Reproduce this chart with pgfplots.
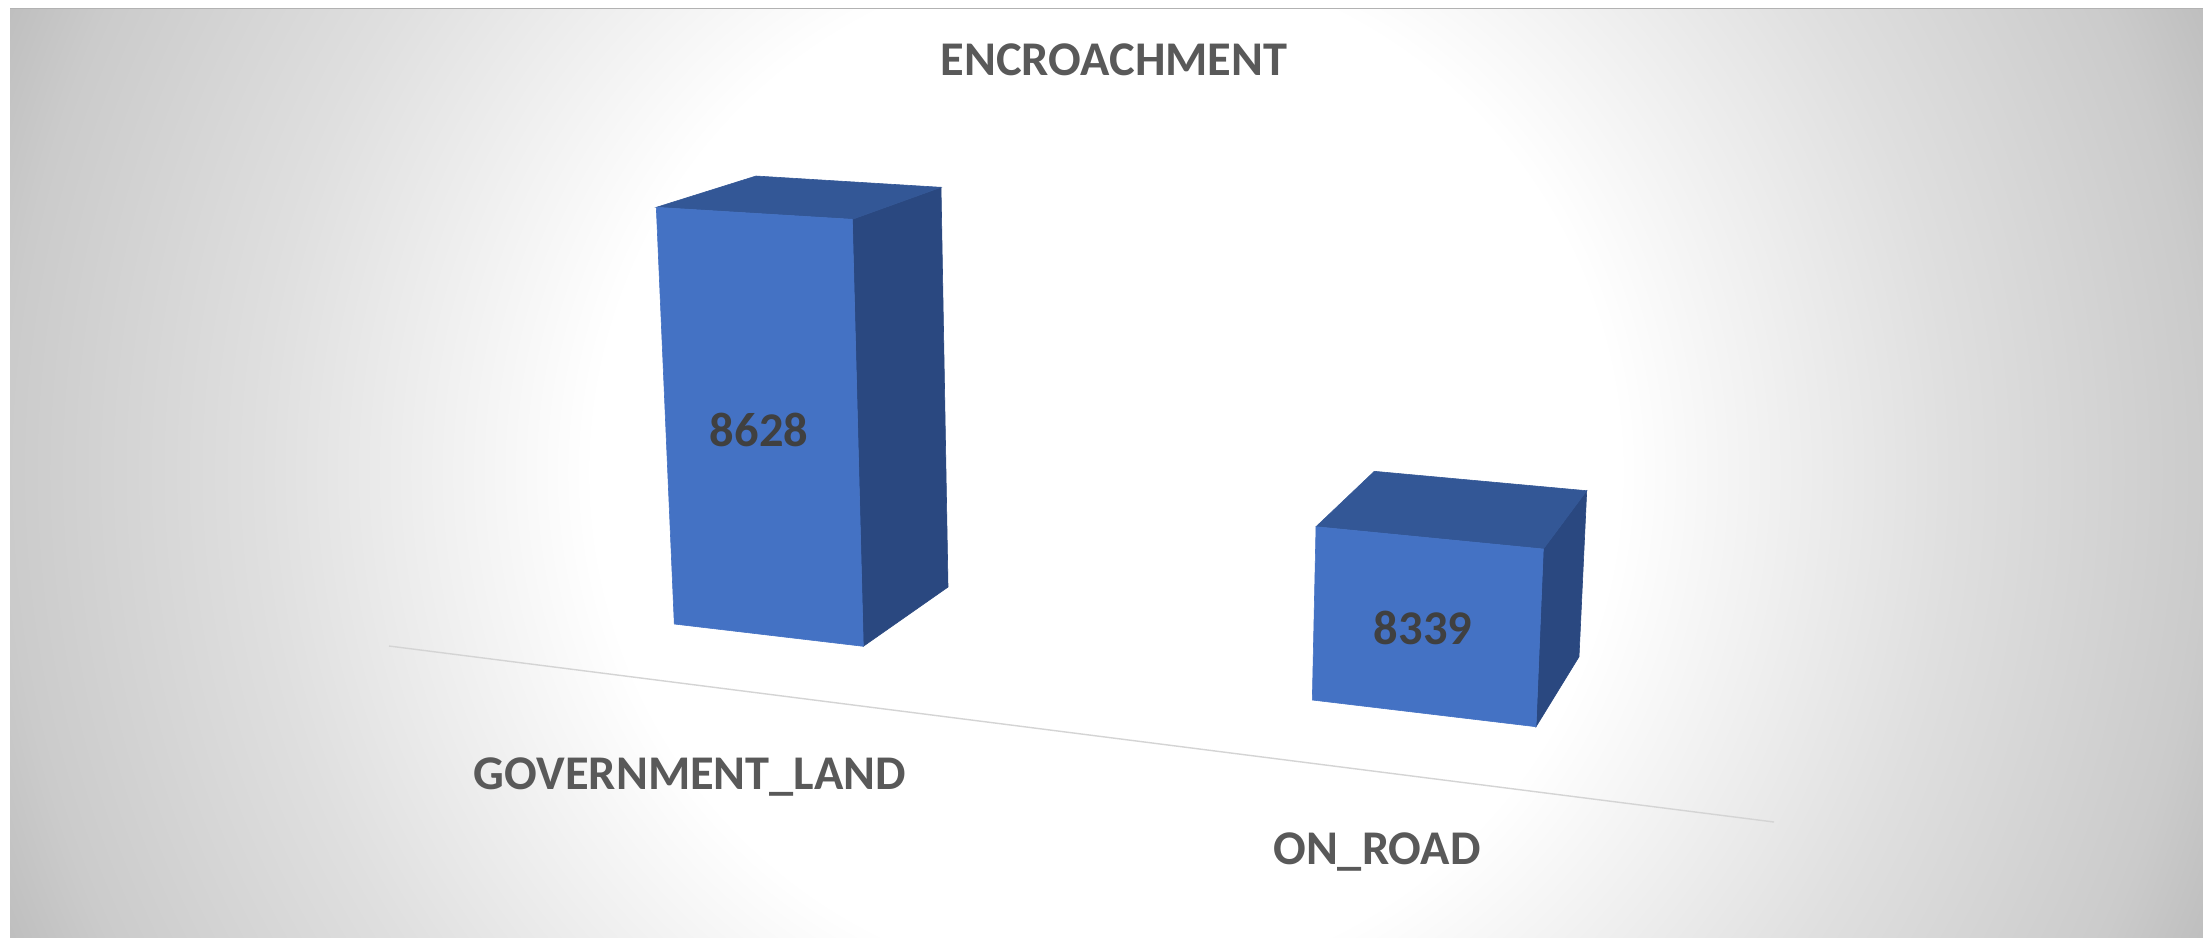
\documentclass[border=0pt]{standalone}
\usepackage{pgfplots}
\pgfplotsset{compat=1.18}
\usepackage{fontspec}
\setmainfont{Carlito}
\definecolor{frontc}{HTML}{4472C4}
\definecolor{topc}{HTML}{335796}
\definecolor{sidec}{HTML}{2A4880}
\definecolor{titlec}{HTML}{595959}
\definecolor{datac}{HTML}{404040}
\definecolor{bga}{HTML}{DFDFDF}
\definecolor{bgb}{HTML}{CBCBCB}
\definecolor{bgc}{HTML}{BEBEBE}
\pgfdeclareradialshading{bgshade}{\pgfpoint{0bp}{0bp}}{color(0bp)=(white); color(10.7bp)=(white); color(17.7bp)=(bga); color(23bp)=(bgb); color(25bp)=(bgc); color(50bp)=(bgc)}
\begin{document}
\begin{tikzpicture}[x=0.5pt,y=-0.5pt]
\useasboundingbox (0,0) rectangle (2203,937);
\fill[white] (0,0) rectangle (2203,937);
\begin{scope}
\clip (10,8) rectangle (2203,937);
\shade[shading=bgshade] (1106,472) circle (1196);
\end{scope}
\draw[color=black!30,line width=0.8pt] (10,8.5) -- (2203,8.5);
\begin{axis}[at={(0,0)},anchor=north west,scale only axis,width=1101.5pt,height=468.5pt,
  xmin=0,xmax=2203,ymin=0,ymax=937,y dir=reverse,hide axis,clip=false]
\addplot[line width=0.7pt,color=black!17] coordinates {(389,646) (1774,822)};
% first bar
\addplot[draw=sidec,line width=0.3pt,fill=sidec] coordinates {(852.3,219.3) (941,187.3) (948,587) (863.3,646.3)} -- cycle;
\addplot[draw=topc,line width=0.3pt,fill=topc] coordinates {(656.3,207.3) (756,176) (941,187.3) (852.3,219.3)} -- cycle;
\addplot[draw=frontc,line width=0.3pt,fill=frontc] coordinates {(656.3,207.3) (852.3,219.3) (863.3,646.3) (674.3,624)} -- cycle;
% second bar
\addplot[draw=sidec,line width=0.3pt,fill=sidec] coordinates {(1543.3,549) (1586.7,490.7) (1579,656.7) (1536,726.7)} -- cycle;
\addplot[draw=topc,line width=0.3pt,fill=topc] coordinates {(1316,526.7) (1374.3,471.3) (1586.7,490.7) (1543.3,549)} -- cycle;
\addplot[draw=frontc,line width=0.3pt,fill=frontc] coordinates {(1316,526.7) (1543.3,549) (1536,726.7) (1312.3,700)} -- cycle;
\node[font=\bfseries\fontsize{24.2}{28}\selectfont,text=titlec] at (axis cs:1114,60) {ENCROACHMENT};
\node[font=\bfseries\fontsize{24.2}{28}\selectfont,text=titlec] at (axis cs:690,777) {GOVERNMENT\_LAND};
\node[font=\bfseries\fontsize{24.2}{28}\selectfont,text=titlec] at (axis cs:1377,852) {ON\_ROAD};
\node[font=\bfseries\fontsize{24.2}{28}\selectfont,text=datac] at (axis cs:759,430) {8628};
\node[font=\bfseries\fontsize{24.2}{28}\selectfont,text=datac] at (axis cs:1423,628) {8339};
\end{axis}
\end{tikzpicture}
\end{document}
